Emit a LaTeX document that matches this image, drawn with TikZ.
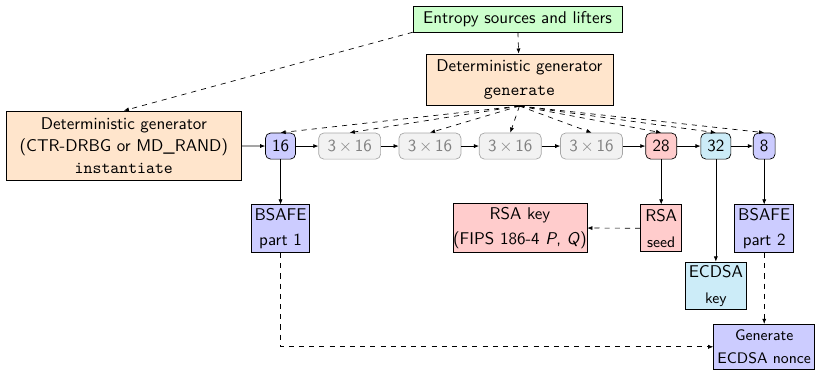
\documentclass[tikz,border=0pt]{standalone}
\usepackage{amsmath}
\usetikzlibrary{arrows.meta}
\definecolor{skyblue}{RGB}{204,236,248}
\begin{document}
\begin{tikzpicture}[
    blk/.style={draw, align=center, font=\sffamily, inner sep=0pt},
    num/.style={blk, rounded corners=3pt, minimum height=0.54cm},
    gry/.style={num, draw=gray!70, fill=gray!10, text=gray, minimum width=1.28cm},
    dline/.style={dashed, -{Latex[length=3pt, width=2.4pt]}},
    sline/.style={-{Latex[length=3pt, width=2.4pt]}}]
    \useasboundingbox(0, 0)rectangle(16.85, -7.65);
    \node[blk, fill=green!20, minimum width=4.32cm, minimum height=0.52cm](ent) at (10.7, -0.4){Entropy sources and lifters};
    \node[blk, fill=orange!20, minimum width=3.87cm, minimum height=1.07cm](gen) at (10.74, -1.65){Deterministic generator\\[2pt]\texttt{generate}};
    \node[blk, fill=orange!20, minimum width=4.84cm, minimum height=1.43cm](inst) at (2.56, -3.01){Deterministic generator\\[1pt](CTR-DRBG or MD\_RAND)\\[1pt]\texttt{instantiate}};
    \node[num, fill=blue!20, minimum width=0.62cm](n1) at (5.8, -3.02){16};
    \node[gry](n2) at (7.23, -3.02){3\,$\times$\,16};
    \node[gry](n3) at (8.89, -3.02){3\,$\times$\,16};
    \node[gry](n4) at (10.55, -3.02){3\,$\times$\,16};
    \node[gry](n5) at (12.23, -3.02){3\,$\times$\,16};
    \node[num, fill=red!20, minimum width=0.64cm](n6) at (13.67, -3.02){28};
    \node[num, fill=skyblue, minimum width=0.62cm](n7) at (14.8, -3.02){32};
    \node[num, fill=blue!20, minimum width=0.45cm](n8) at (15.8, -3.02){8};
    \node[blk, fill=blue!20, minimum width=1.2cm, minimum height=0.99cm](b1) at (5.8, -4.73){BSAFE\\[3pt]part 1};
    \node[blk, fill=red!20, minimum width=2.77cm, minimum height=1.03cm](rk) at (10.75, -4.71){RSA key\\[3pt](FIPS 186-4 \textit{P}, \textit{Q})};
    \node[blk, fill=red!20, minimum width=0.85cm, minimum height=0.97cm](rs) at (13.67, -4.72){RSA\\[3pt]{\small seed}};
    \node[blk, fill=blue!20, minimum width=1.22cm, minimum height=0.99cm](b2) at (15.8, -4.73){BSAFE\\[3pt]part 2};
    \node[blk, fill=skyblue, minimum width=1.26cm, minimum height=0.99cm](ek) at (14.8, -5.91){ECDSA\\[3pt]{\small key}};
    \node[blk, fill=blue!20, minimum width=2.09cm, minimum height=0.93cm, font=\sffamily\small](nc) at (15.8, -7.17){Generate\\[3pt]ECDSA nonce};
    \draw[dline](ent.south west)--(inst.north);
    \draw[dline](ent)--(gen);
    \foreach \n in {n1, n2, n3, n4, n5, n6, n7, n8}
        \draw[dline](gen.south)--(\n.north);
    \foreach \a/\b in {inst/n1, n1/n2, n2/n3, n3/n4, n4/n5, n5/n6, n6/n7, n7/n8}
        \draw[sline](\a)--(\b);
    \draw[sline](n1)--(b1);
    \draw[sline](n6)--(rs);
    \draw[sline](n7)--(ek);
    \draw[sline](n8)--(b2);
    \draw[dline](rs)--(rk);
    \draw[dline](b2)--(nc);
    \draw[dline](b1.south)|-(nc.west);
\end{tikzpicture}
\end{document}
